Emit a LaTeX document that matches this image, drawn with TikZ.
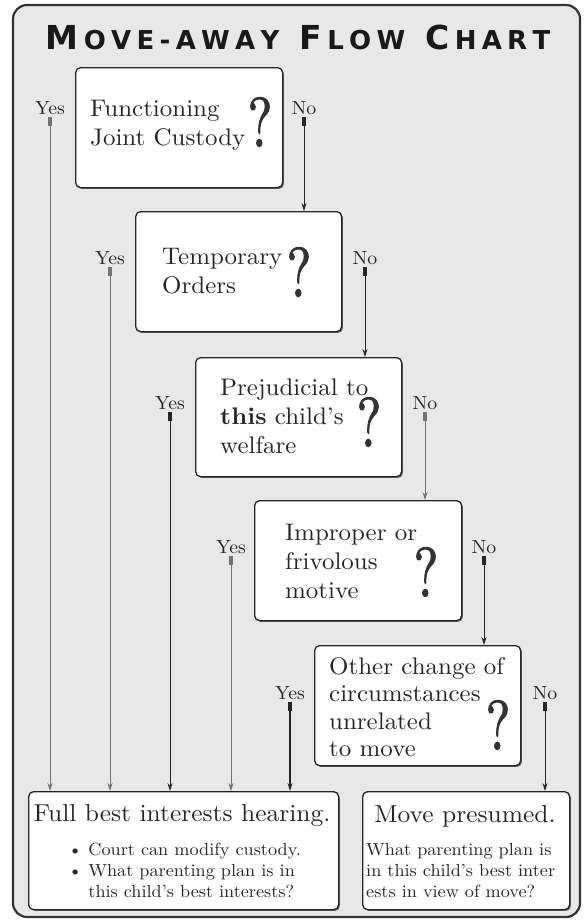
\documentclass[tikz,border=0pt]{standalone}
\usepackage{fontspec}
\setmainfont{lmroman10-regular}[Extension=.otf, BoldFont=lmroman10-bold, FakeStretch=1.04]
\newfontfamily\qfont{lmroman10-regular}[Extension=.otf, FakeBold=1.6]
\usetikzlibrary{arrows.meta,shadows}
\newfontfamily\titlefont{DejaVu Sans}
\newcommand\mvBig[1]{{\fontsize{33}{33}\selectfont #1}}
\newcommand\mvSm[1]{{\fontsize{26}{26}\selectfont #1}}
\newcommand\mvK{\kern5.3pt}
\begin{document}
\begin{tikzpicture}[x=1pt,y=-1pt,
  qbox/.style={draw=black!85, line width=1.3pt, fill=white, rounded corners=5pt,
    inner sep=0pt, anchor=north west,
    drop shadow={shadow xshift=1.3pt, shadow yshift=-1.3pt, opacity=0.55, fill=black}},
  qtext/.style={align=left, anchor=west, inner sep=0pt, text=black!85,
    font=\fontsize{24}{29}\selectfont},
  qmark/.style={inner sep=0pt, text=black!80, font=\qfont\fontsize{70}{70}\selectfont},
  lbl/.style={inner sep=2pt, text=black!85, font=\fontsize{19}{19}\selectfont},
  conn/.style={line width=0.8pt, draw=black!85,
    {Rectangle[length=9pt,width=3.4pt]}-{Stealth[length=8pt,width=5pt]}},
  connl/.style={conn, draw=black!55},
  btitle/.style={inner sep=0pt, text=black!85, font=\fontsize{24.5}{24.5}\selectfont},
  bsmall/.style={inner sep=0pt, align=left, anchor=north west, text=black!85,
    font=\fontsize{17.5}{21}\selectfont}]
\useasboundingbox (0,0) rectangle (585,924);
% frame
\draw[line width=2.2pt, draw=black!80, fill=black!9, rounded corners=14pt] (13,5) rectangle (580,917);
% title
\node[font=\titlefont\bfseries, text=black!90, inner sep=0pt] (title) at (298,37)
  {\mvBig{M}\mvSm{\mvK O\mvK V\mvK E\mvK -\mvK A\mvK W\mvK A\mvK Y}\hspace{20pt}%
   \mvBig{F}\mvSm{\mvK L\mvK O\mvK W}\hspace{20pt}%
   \mvBig{C}\mvSm{\mvK H\mvK A\mvK R\mvK T}};
% question boxes
\node[qbox, minimum width=207pt, minimum height=120pt] (q1) at (75,67) {};
\node[qbox, minimum width=206pt, minimum height=120pt] (q2) at (135,211) {};
\node[qbox, minimum width=206pt, minimum height=119pt] (q3) at (195,357) {};
\node[qbox, minimum width=207pt, minimum height=120pt] (q4) at (254,500) {};
\node[qbox, minimum width=206pt, minimum height=120pt] (q5) at (314,645) {};
% texts
\node[qtext] (t1) at (90,125) {Functioning\\Joint Custody};
\node[qtext] (t2) at (162,271) {Temporary\\Orders};
\node[qtext] (t3) at (220,416) {Prejudicial to\\\textbf{this} child's\\welfare};
\node[qtext] (t4) at (285,561) {Improper or\\frivolous\\motive};
\node[qtext, font=\fontsize{24}{27.5}\selectfont] (t5) at (329,707) {Other change of\\circumstances\\unrelated\\to move};
% question marks
\node[qmark] (m1) at (260,122) {\scalebox{0.75}[1]{?}};
\node[qmark] (m2) at (299,272) {\scalebox{0.75}[1]{?}};
\node[qmark] (m3) at (369,422) {\scalebox{0.75}[1]{?}};
\node[qmark] (m4) at (426,572) {\scalebox{0.75}[1]{?}};
\node[qmark] (m5) at (498,725) {\scalebox{0.75}[1]{?}};
% bottom boxes
\node[qbox, minimum width=310pt, minimum height=118pt] (b1) at (28,791) {};
\node[qbox, minimum width=207pt, minimum height=118pt] (b2) at (362,791) {};
\node[btitle] (b1t) at (182,816) {Full best interests hearing.};
\node[btitle] (b2t) at (465,816) {Move presumed.};
\node[bsmall] (b1s) at (68,843) {\textbullet\ Court can modify custody.\\\textbullet\ What parenting plan is in\\\phantom{\textbullet\ }this child's best interests?};
\node[bsmall] (b2s) at (366,843) {What parenting plan is\\in this child's best inter\\ests in view of move?};
% labels
\node[lbl] (y1) at (50,108) {Yes};
\node[lbl] (n1) at (304,108) {No};
\node[lbl] (y2) at (110,258) {Yes};
\node[lbl] (n2) at (365,258) {No};
\node[lbl] (y3) at (170,403) {Yes};
\node[lbl] (n3) at (425,403) {No};
\node[lbl] (y4) at (231,547) {Yes};
\node[lbl] (n4) at (484,547) {No};
\node[lbl] (y5) at (290,693) {Yes};
\node[lbl] (n5) at (545,693) {No};
% connectors
\draw[connl] (y1.south) -- (y1.south |- b1.north);
\draw[connl] (y2.south) -- (y2.south |- b1.north);
\draw[conn] (y3.south) -- (y3.south |- b1.north);
\draw[connl] (y4.south) -- (y4.south |- b1.north);
\draw[conn, line width=1.1pt] (y5.south) -- (y5.south |- b1.north);
\draw[conn] (n1.south) -- (n1.south |- q2.north);
\draw[conn] (n2.south) -- (n2.south |- q3.north);
\draw[connl] (n3.south) -- (n3.south |- q4.north);
\draw[conn] (n4.south) -- (n4.south |- q5.north);
\draw[conn] (n5.south) -- (n5.south |- b2.north);
\end{tikzpicture}
\end{document}
